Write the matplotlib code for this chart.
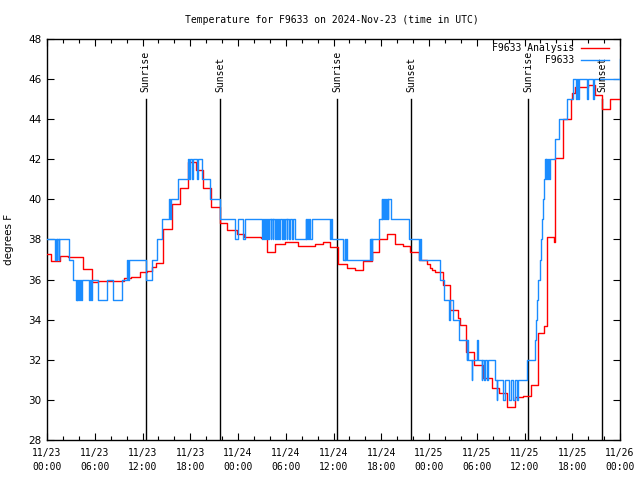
import matplotlib
matplotlib.use("Agg")
import matplotlib.pyplot as plt
from matplotlib.ticker import MultipleLocator

# ---- data (hours since 2024-11-23 00:00 UTC) ----
obs_hours = [0.0, 1.00, 1.08, 1.20, 1.30, 1.45, 1.55, 2.80, 3.30,
             3.64, 3.72, 3.80, 3.90, 4.00, 4.12, 4.22, 4.36,
             5.32, 5.45, 5.52, 5.61, 6.37, 7.50, 8.33, 9.38,
             10.05, 10.15, 10.25, 12.40, 13.15, 13.78, 14.49,
             15.33, 15.45, 15.55, 16.40,
             17.75, 17.85, 17.95, 18.20, 18.30, 18.90, 19.00, 19.43,
             20.50, 21.70, 23.60, 24.00, 24.60, 24.85,
             27.00, 27.15, 27.30, 27.40, 27.55, 27.65, 27.80, 27.95,
             28.10, 28.20, 28.35, 28.45, 28.60, 28.75, 28.90, 29.00,
             29.15, 29.30, 29.50, 29.60, 29.80, 29.90, 30.10, 30.20,
             30.40, 30.55, 30.80, 30.90, 31.20,
             32.50, 32.60, 32.70, 32.85, 32.95, 33.10, 33.25,
             35.55, 35.65, 35.75,
             37.25, 37.40, 37.50, 37.60, 37.65,
             40.60, 40.65, 40.75, 40.80, 40.90, 41.70,
             42.05, 42.15, 42.25, 42.35, 42.45, 42.60, 42.70, 42.80, 42.90,
             43.18, 45.45, 46.80, 46.90, 47.00,
             49.35, 49.87, 50.54, 50.65, 51.00, 51.80,
             52.72, 52.80, 52.90, 53.35, 53.45, 54.06, 54.15,
             54.61, 54.70, 54.95, 55.05, 55.30, 55.40, 56.28,
             56.50, 56.60, 57.35, 57.50, 58.10, 58.30, 58.55, 58.75, 59.00, 59.15,
             60.30, 61.30, 61.45, 61.60, 61.75, 61.90, 62.10, 62.20, 62.35, 62.50,
             62.60, 62.65, 62.75, 62.85, 62.95, 63.05, 63.15,
             63.82, 64.37, 65.28, 66.04,
             66.50, 66.60, 66.75, 66.85, 67.90, 68.00, 68.60, 68.70,
             71.95, 72.00]
obs_temp = [38, 37, 38, 37, 38, 37, 38, 37, 36,
            35, 36, 35, 36, 35, 36, 35, 36,
            35, 36, 35, 36, 35, 36, 35, 36,
            37, 36, 37, 36, 37, 38, 39,
            40, 39, 40, 41,
            42, 41, 42, 41, 42, 41, 42, 41,
            40, 39, 38, 39, 38, 39,
            38, 39, 38, 39, 38, 39, 38, 39,
            38, 39, 38, 39, 38, 39, 38, 39,
            38, 39, 38, 39, 38, 39, 38, 39,
            38, 39, 38, 39, 38,
            39, 38, 39, 38, 39, 38, 39,
            38, 39, 38,
            37, 38, 37, 38, 37,
            38, 37, 38, 37, 38, 39,
            40, 39, 40, 39, 40, 39, 40, 39, 40,
            39, 38, 37, 38, 37,
            36, 35, 34, 35, 34, 33,
            32, 33, 32, 31, 32, 33, 32,
            31, 32, 31, 32, 31, 32, 31,
            30, 31, 30, 31, 30, 31, 30, 31, 30, 31,
            32, 33, 34, 35, 36, 37, 38, 39, 40, 41,
            42, 41, 42, 41, 42, 41, 42,
            43, 44, 45, 46,
            45, 46, 45, 46, 45, 46, 45, 46,
            47, 47]

ana_hours = [0.0, 0.50, 1.63, 2.68, 4.56, 5.61, 6.45, 7.50, 8.33, 9.38,
             9.72, 10.55, 11.68, 12.52, 13.15, 13.69, 14.61, 15.66, 16.71,
             17.67, 18.68, 19.56, 20.60, 21.73, 22.65, 23.83, 24.79, 25.71,
             26.84, 27.60, 28.64, 29.90, 31.57, 32.62, 33.67, 34.71, 35.55,
             36.60, 37.70, 38.69, 39.70, 40.87, 41.73, 42.70, 43.70, 44.77,
             45.60, 46.70, 47.70, 48.10, 48.40, 48.74, 49.79, 50.66, 51.67,
             51.88, 52.68, 53.70, 54.81, 55.86, 56.83, 57.75, 58.79, 59.84,
             60.76, 61.73, 62.44, 62.78, 63.70, 63.82, 64.78, 65.79, 66.00,
             66.35, 68.00, 68.84, 69.68, 70.73, 72.00]
ana_temp = [37.26, 36.91, 37.19, 37.11, 36.53, 35.86, 35.91, 35.95, 35.91, 35.95,
            36.06, 36.15, 36.36, 36.44, 36.64, 36.84, 38.54, 39.75, 40.55,
            41.85, 41.47, 40.55, 39.60, 38.81, 38.47, 38.26, 38.14, 38.11,
            38.06, 37.39, 37.79, 37.86, 37.66, 37.69, 37.78, 37.86, 37.64,
            36.78, 36.56, 36.48, 36.93, 37.37, 38.01, 38.26, 37.79, 37.68,
            37.40, 37.00, 36.80, 36.60, 36.50, 36.38, 35.73, 34.48, 34.07,
            33.73, 32.40, 31.74, 31.08, 30.58, 30.36, 29.66, 30.16, 30.20,
            30.74, 33.32, 33.70, 38.11, 37.90, 42.08, 44.00, 45.00, 45.30,
            45.62, 45.70, 45.20, 44.49, 45.00, 45.00]

sun_hours = [12.38, 21.75, 36.45, 45.73, 60.47, 69.80]
sun_labels = ["Sunrise", "Sunset", "Sunrise", "Sunset", "Sunrise", "Sunset"]

xtick_hours = [0, 6, 12, 18, 24, 30, 36, 42, 48, 54, 60, 66, 72]
xtick_labels = ["11/23\n00:00", "11/23\n06:00", "11/23\n12:00", "11/23\n18:00",
                "11/24\n00:00", "11/24\n06:00", "11/24\n12:00", "11/24\n18:00",
                "11/25\n00:00", "11/25\n06:00", "11/25\n12:00", "11/25\n18:00",
                "11/26\n00:00"]

MONO = "DejaVu Sans Mono"
RED = "#ff0000"
BLUE = "#1a8cff"

fig = plt.figure(figsize=(6.4, 4.8), dpi=100)
ax = fig.add_axes([47 / 640, 40 / 480, 573 / 640, 401 / 480])

ax.plot(ana_hours, ana_temp, drawstyle="steps-post", color=RED, lw=1.0,
        label="F9633 Analysis", zorder=3)
ax.plot(obs_hours, obs_temp, drawstyle="steps-post", color=BLUE, lw=1.0,
        label=" " * 9 + "F9633", zorder=4)

for h, lab in zip(sun_hours, sun_labels):
    ax.plot([h, h], [28, 45.0], color="black", lw=1.0, zorder=2)
    ax.text(h, 45.35, lab, rotation=90, ha="center", va="bottom",
            fontsize=7, family=MONO, zorder=5)

ax.set_xlim(0, 72)
ax.set_ylim(28, 48)
ax.set_xticks(xtick_hours)
ax.set_xticklabels(xtick_labels, family=MONO, fontsize=7, linespacing=1.45)
ax.xaxis.set_minor_locator(MultipleLocator(2))
ax.set_yticks(range(28, 49, 2))
ax.tick_params(axis="y", labelsize=7.5, pad=4)
ax.tick_params(which="major", direction="in", length=5, width=0.8,
               top=True, right=True)
ax.tick_params(which="minor", direction="in", length=3, width=0.8,
               top=True, right=True)
ax.tick_params(axis="x", pad=6)
for s in ax.spines.values():
    s.set_linewidth(1.0)

ax.set_ylabel("degrees F", fontsize=7.5, labelpad=10)
fig.text(0.519, 0.958, "Temperature for F9633 on 2024-Nov-23 (time in UTC)",
         ha="center", va="center", family=MONO, fontsize=7)

leg = ax.legend(loc="upper right", bbox_to_anchor=(0.981, 0.99),
                frameon=False, markerfirst=False, borderpad=0,
                borderaxespad=0, handlelength=2.9, handletextpad=0.7,
                labelspacing=0.25, prop={"family": MONO, "size": 7})
leg.set_zorder(6)

fig.savefig("out.png", dpi=100)
